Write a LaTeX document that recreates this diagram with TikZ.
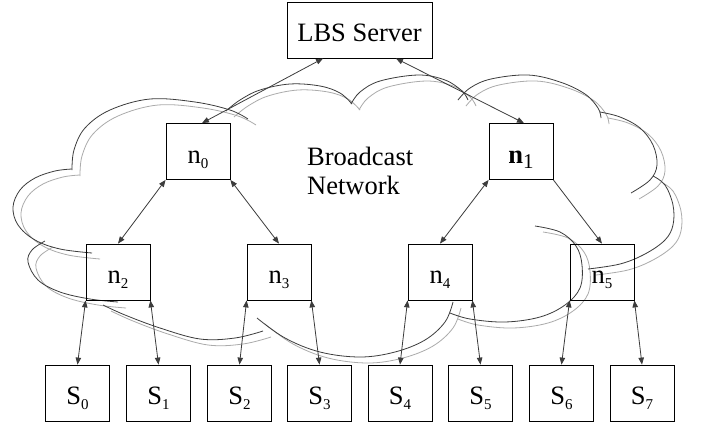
\documentclass[tikz,border=0pt]{standalone}
\usepackage{fontspec}
\setmainfont{Liberation Serif}
\usetikzlibrary{arrows.meta,calc}
\definecolor{cdark}{HTML}{3C3C3C}
\definecolor{cgray}{HTML}{ABABAB}
\newcommand\sbs[1]{\raisebox{-5pt}{\fontsize{15}{15}\selectfont #1}}
\newcommand\cloudbumps{%
  \draw plot[smooth,tension=0.6] coordinates {(72,170) (74,150) (85,128) (110,110) (150,99) (195,102) (230,110) (248,119)};
  \draw plot[smooth,tension=0.6] coordinates {(226,111) (240,100) (260,90) (290,84) (320,86) (340,93) (352,104)};
  \draw plot[smooth,tension=0.6] coordinates {(351,104) (360,92) (380,81) (418,75) (445,80) (462,91) (468,100)};
  \draw plot[smooth,tension=0.6] coordinates {(458,100) (470,88) (491,79) (528,75) (560,82) (585,94) (598,108) (601,118)};
  \draw plot[smooth,tension=0.6] coordinates {(600,112) (620,117) (640,128) (653,145) (657,165) (650,180) (631,193)};
  \draw plot[smooth,tension=0.6] coordinates {(653,176) (665,185) (673,205) (673,225) (665,240) (645,254) (620,264) (588,269)};
  \draw plot[smooth,tension=0.6] coordinates {(535,226) (560,232) (576,246) (582,265) (580,288) (565,305) (540,317) (505,322) (470,319) (450,313)};
  \draw plot[smooth,tension=0.6] coordinates {(453,302) (445,322) (425,340) (395,352) (360,357) (320,352) (285,338) (257,318)};
  \draw plot[smooth,tension=0.6] coordinates {(263,331) (235,338) (200,339) (160,328) (125,315) (103,305)};
  \draw plot[smooth,tension=0.6] coordinates {(118,302) (90,299) (60,292) (38,280) (28,262) (32,250) (45,241)};
  \draw plot[smooth,tension=0.6] coordinates {(92,253) (60,249) (35,240) (18,225) (13,207) (20,190) (35,178) (55,171) (72,169)};
}
\begin{document}
\begin{tikzpicture}[x=1pt,y=-1pt,
  box/.style={draw=black, line width=0.8pt, minimum width=64pt, minimum height=56pt,
    inner sep=0pt, text height=24pt, text depth=1pt, font=\fontsize{26.5}{28}\selectfont},
  tip/.tip={Triangle[length=7pt,width=5.5pt]},
  link/.style={draw=cdark, line width=0.8pt, tip-tip},
  link1/.style={draw=cdark, line width=0.8pt, -tip}]
\useasboundingbox[fill=white] (0,0) rectangle (702,424);
% cloud, two offset outlines
\begin{scope}[shift={(8,6)}, color=cgray, line width=0.8pt]
  \cloudbumps
\end{scope}
\begin{scope}[color=cdark, line width=0.8pt]
  \cloudbumps
\end{scope}
% nodes
\node[box, minimum width=145pt] (lbs) at (359.5,30) {LBS Server};
\node[box] (n0) at (198,151.5) {n\sbs{0}};
\node[box] (n1) at (521,151.5) {\textbf{n}\raisebox{-5pt}{\fontsize{21}{21}\selectfont 1}};
\node[box] (n2) at (118,272) {n\sbs{2}};
\node[box] (n3) at (279,272) {n\sbs{3}};
\node[box] (n4) at (440,272) {n\sbs{4}};
\node[box] (n5) at (602,272) {n\sbs{5}};
\node[box] (S0) at (77.5,393) {S\sbs{0}};
\node[box] (S1) at (158.5,393) {S\sbs{1}};
\node[box] (S2) at (239.5,393) {S\sbs{2}};
\node[box] (S3) at (319.5,393) {S\sbs{3}};
\node[box] (S4) at (400,393) {S\sbs{4}};
\node[box] (S5) at (480.5,393) {S\sbs{5}};
\node[box] (S6) at (561.5,393) {S\sbs{6}};
\node[box] (S7) at (642,393) {S\sbs{7}};
\node[align=left, anchor=west, inner sep=0pt, font=\fontsize{26.5}{28.5}\selectfont] (bn) at (307,171) {Broadcast\\Network};
% connectors
\draw[link] ($(lbs.south west)!0.25!(lbs.south east)$) -- ([xshift=4pt]n0.north);
\draw[link] ($(lbs.south west)!0.75!(lbs.south east)$) -- ([xshift=3pt]n1.north);
\draw[link] (n0.south west) -- (n2.north);
\draw[link] (n0.south east) -- (n3.north);
\draw[link] (n1.south west) -- (n4.north);
\draw[link1] (n1.south east) -- (n5.north);
\draw[link] (n2.south west) -- (S0.north);
\draw[link] (n2.south east) -- (S1.north);
\draw[link] (n3.south west) -- (S2.north);
\draw[link] (n3.south east) -- (S3.north);
\draw[link] (n4.south west) -- (S4.north);
\draw[link] (n4.south east) -- (S5.north);
\draw[link] (n5.south west) -- (S6.north);
\draw[link] (n5.south east) -- (S7.north);
\end{tikzpicture}
\end{document}
